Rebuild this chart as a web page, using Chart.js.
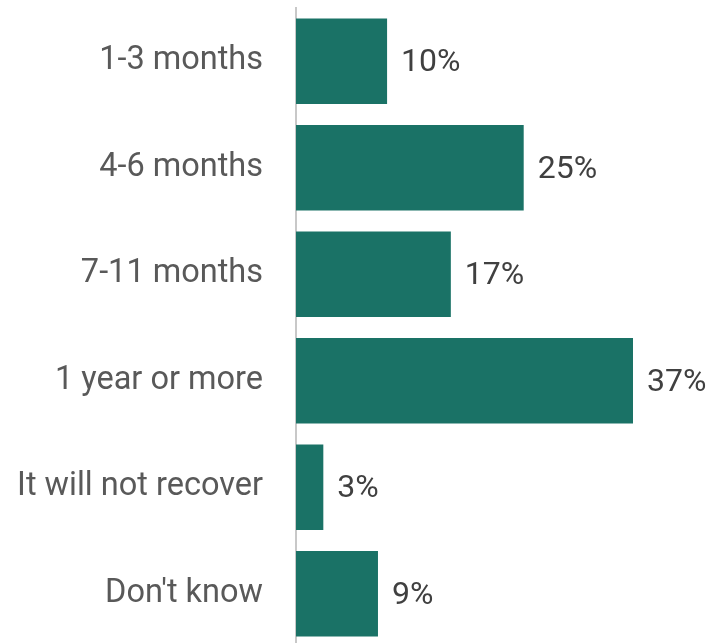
<!DOCTYPE html>
<html>
<head>
<meta charset="utf-8">
<script src="https://cdn.jsdelivr.net/npm/chart.js@4"></script>
<style>
  html, body { margin: 0; padding: 0; background: #fff; overflow: hidden; }
  #wrap { width: 711px; height: 647px; }
</style>
</head>
<body>
<div id="wrap"><canvas id="myChart"></canvas></div>
<script>
  const categories = ['1-3 months', '4-6 months', '7-11 months', '1 year or more', 'It will not recover', "Don't know"];
  const shares = [10, 25, 17, 37, 3, 9];

  // write the percentage just past the end of each bar
  const valueLabels = {
    id: 'valueLabels',
    afterDatasetsDraw(chart) {
      const ctx = chart.ctx;
      const meta = chart.getDatasetMeta(0);
      ctx.save();
      ctx.font = '32px Roboto';
      ctx.fillStyle = '#404040';
      ctx.textAlign = 'left';
      ctx.textBaseline = 'middle';
      meta.data.forEach((bar, i) => {
        ctx.fillText(shares[i] + '%', bar.x + 14, bar.y + 2);
      });
      ctx.restore();
    }
  };

  const ctx = document.getElementById('myChart');

  new Chart(ctx, {
    type: 'bar',
    data: {
      labels: categories,
      datasets: [{
        data: shares,
        backgroundColor: '#1a7266',
        borderWidth: 0,
        categoryPercentage: 1,
        barPercentage: 0.802
      }]
    },
    options: {
      indexAxis: 'y',
      responsive: true,
      maintainAspectRatio: false,
      animation: false,
      layout: { padding: { top: 8, right: 78, bottom: 0, left: 0 } },
      plugins: {
        legend: { display: false },
        tooltip: { enabled: false }
      },
      scales: {
        x: {
          display: false,
          min: 0,
          max: 37
        },
        y: {
          grid: { display: false, drawTicks: false },
          border: { display: true, color: '#c8c8c8', width: 2 },
          ticks: {
            color: '#595959',
            font: { family: 'Roboto', size: 32.5 },
            padding: 33
          },
          afterFit(scale) {
            // fixed axis column; labels sit inside their categories so no end padding
            scale.width = 296;
            scale.paddingTop = 0;
            scale.paddingBottom = 0;
          }
        }
      }
    },
    plugins: [valueLabels]
  });
</script>
</body>
</html>
